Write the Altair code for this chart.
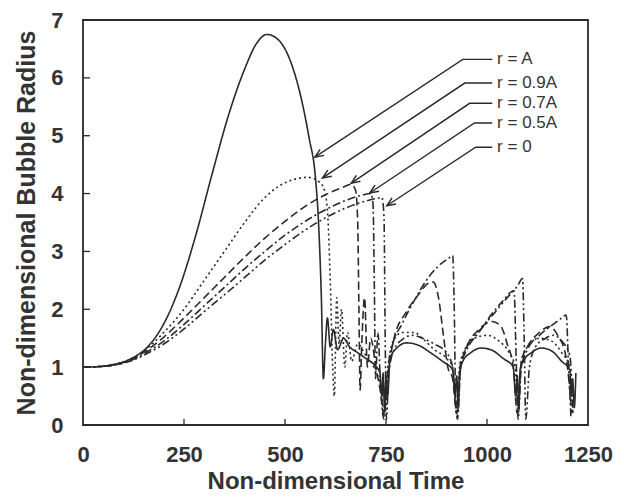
import math
import altair as alt
import pandas as pd

# ---------------- data ----------------
series_names = ["r = A", "r = 0.9A", "r = 0.7A", "r = 0.5A", "r = 0"]

t_A = [0, 40, 80, 120, 160, 200, 240, 280, 320, 360, 400, 430, 455, 480, 510, 540, 560, 575, 583, 590, 595,
       600, 605, 612, 620, 630, 645, 660, 680, 700, 720, 735, 740, 743, 746, 750, 754, 760, 780, 800, 830, 860,
       890, 915, 921, 925, 929, 932, 940, 960, 985, 1010, 1040, 1065, 1071, 1075, 1079, 1082, 1090, 1110, 1135,
       1160, 1185, 1205, 1209, 1212, 1216, 1220]
r_A = [1.0, 1.01, 1.05, 1.15, 1.35, 1.75, 2.4, 3.3, 4.35, 5.35, 6.15, 6.6, 6.75, 6.68, 6.35, 5.65, 4.95, 4.3, 3.5, 2.2, 0.8,
       1.4, 1.85, 1.35, 1.65, 1.3, 1.5, 1.35, 1.25, 1.15, 1.05, 0.9, 0.5, 0.9, 0.3, 0.8, 0.5, 1.15, 1.35, 1.42, 1.38, 1.25,
       1.1, 0.95, 0.5, 0.85, 0.3, 0.9, 1.1, 1.25, 1.33, 1.3, 1.15, 1.0, 0.5, 0.85, 0.3, 0.95, 1.1, 1.25, 1.33,
       1.28, 1.1, 0.95, 0.5, 0.8, 0.3, 0.9]

t_09 = [0, 40, 80, 120, 160, 200, 250, 300, 350, 400, 450, 490, 520, 557, 585, 598, 606, 612, 618, 622, 628, 634,
        640, 648, 655, 665, 680, 700, 720, 738, 745, 752, 765, 790, 820, 840, 870, 900, 915, 924, 932, 945, 970,
        1000, 1030, 1055, 1070, 1077, 1085, 1100, 1130, 1160, 1185, 1205, 1212]
r_09 = [1.0, 1.01, 1.05, 1.15, 1.33, 1.6, 2.0, 2.5, 3.0, 3.5, 3.93, 4.15, 4.24, 4.28, 4.2, 4.05, 3.6, 2.5, 1.0, 0.5, 2.2, 1.4,
        2.0, 1.0, 1.6, 1.1, 1.4, 1.2, 1.0, 0.6, 0.2, 0.8, 1.4, 1.6, 1.6, 1.5, 1.3, 1.15, 1.0, 0.3, 1.0, 1.3, 1.5,
        1.55, 1.45, 1.25, 1.0, 0.2, 1.1, 1.35, 1.5, 1.45, 1.25, 1.0, 0.2]

t_07 = [0, 40, 80, 120, 160, 200, 250, 300, 350, 400, 450, 500, 550, 600, 640, 664, 675, 680, 683, 686, 690, 697,
        704, 712, 725, 738, 745, 752, 770, 800, 830, 855, 867, 880, 893, 903, 915, 925, 935, 950, 980, 1013, 1035,
        1050, 1065, 1075, 1085, 1100, 1130, 1155, 1175, 1195, 1210]
r_07 = [1.0, 1.01, 1.05, 1.13, 1.3, 1.52, 1.85, 2.2, 2.55, 2.9, 3.23, 3.52, 3.78, 3.98, 4.1, 4.16, 4.05, 3.5, 2.0, 0.6, 1.4, 2.2,
        1.0, 1.5, 1.0, 0.5, 0.15, 0.7, 1.5, 1.95, 2.25, 2.45, 2.47, 2.2, 1.5, 1.0, 0.8, 0.2, 1.0, 1.35, 1.65, 1.79, 1.7,
        1.4, 1.0, 0.2, 1.1, 1.35, 1.6, 1.7, 1.55, 1.2, 0.2]

t_05 = [0, 40, 80, 120, 160, 200, 250, 300, 350, 400, 450, 500, 550, 600, 650, 690, 713, 718, 721, 724, 730, 737,
        745, 752, 765, 790, 820, 850, 880, 905, 915, 919, 922, 927, 935, 950, 980, 1010, 1040, 1060, 1067, 1072,
        1077, 1085, 1100, 1130, 1160, 1185, 1196, 1202, 1208]
r_05 = [1.0, 1.01, 1.04, 1.12, 1.27, 1.45, 1.74, 2.06, 2.38, 2.7, 3.0, 3.28, 3.52, 3.72, 3.88, 3.97, 4.0, 3.8, 2.5, 0.8, 1.6, 0.6,
        0.1, 0.8, 1.35, 1.75, 2.15, 2.5, 2.75, 2.88, 2.93, 2.0, 0.6, 0.1, 1.0, 1.3, 1.6, 1.9, 2.15, 2.3, 2.32, 1.2,
        0.1, 1.0, 1.3, 1.55, 1.72, 1.85, 1.9, 1.0, 0.1]

t_0 = [0, 40, 80, 120, 160, 200, 250, 300, 350, 400, 450, 500, 550, 600, 650, 700, 730, 740, 745, 748, 751, 757,
       770, 795, 815, 840, 870, 900, 915, 926, 935, 960, 990, 1020, 1050, 1075, 1088, 1092, 1096, 1105, 1120, 1145,
       1165, 1185, 1205, 1213]
r_0 = [1.0, 1.01, 1.04, 1.11, 1.24, 1.4, 1.66, 1.96, 2.25, 2.55, 2.85, 3.12, 3.37, 3.58, 3.75, 3.87, 3.92, 3.93, 3.6, 1.5, 0.1, 0.9,
       1.3, 1.5, 1.55, 1.5, 1.4, 1.25, 1.0, 0.15, 1.1, 1.45, 1.7, 1.95, 2.2, 2.4, 2.53, 1.5, 0.1, 1.0, 1.35, 1.5,
       1.55, 1.45, 1.2, 0.2]

# annotation geometry (data units): label position, horizontal start, arrow tip
label_t = [1025, 1025, 1025, 1025, 1025]
label_r = [6.32, 5.91, 5.56, 5.22, 4.80]
elbow_t = [940, 945, 957, 969, 972]
hend_t = [1013, 1013, 1013, 1013, 1013]
tip_t = [574, 593, 664, 710, 752]
tip_r = [4.63, 4.27, 4.18, 4.01, 3.79]

x_ticks = [250, 500, 750, 1000]
y_ticks = [1, 2, 3, 4, 5, 6]

# ---------------- build tables ----------------
W, H = 505, 405
XMAX, YMAX = 1250, 7

rows = []
for name, ts, rs in zip(series_names, [t_A, t_09, t_07, t_05, t_0], [r_A, r_09, r_07, r_05, r_0]):
    for i, (t, r) in enumerate(zip(ts, rs)):
        rows.append({"series": name, "t": t, "r": r, "i": i})
curves = pd.DataFrame(rows)

seg_rows = []
head_rows = []
lab_rows = []
for k, name in enumerate(series_names):
    pts = [(tip_t[k], tip_r[k]), (elbow_t[k], label_r[k]), (hend_t[k], label_r[k])]
    for j, (t, r) in enumerate(pts):
        seg_rows.append({"lab": name, "t": t, "r": r, "o": j})
    dx = (tip_t[k] - elbow_t[k]) * W / XMAX
    dy = -(tip_r[k] - label_r[k]) * H / YMAX
    ang = math.degrees(math.atan2(dy, dx)) % 360
    head_rows.append({"lab": name, "t": tip_t[k], "r": tip_r[k], "ang": ang})
    lab_rows.append({"lab": name, "t": label_t[k], "r": label_r[k]})
segs = pd.DataFrame(seg_rows)
heads = pd.DataFrame(head_rows)
labs = pd.DataFrame(lab_rows)

xs = alt.Scale(domain=[0, XMAX], nice=False)
ys = alt.Scale(domain=[0, YMAX], nice=False)
ink = "#2a2a2a"

lines = alt.Chart(curves).mark_line(strokeWidth=1.6, color=ink, clip=True, interpolate="monotone").encode(
    x=alt.X("t:Q", scale=xs, title="Non-dimensional Time",
            axis=alt.Axis(values=[0, 250, 500, 750, 1000, 1250], format="d", ticks=False, domain=False,
                          grid=False, labelPadding=19, titlePadding=4, labelFlush=False, titleFontSize=24)),
    y=alt.Y("r:Q", scale=ys, title="Non-dimensional Bubble Radius",
            axis=alt.Axis(values=[0, 1, 2, 3, 4, 5, 6, 7], format="d", ticks=False, domain=False, grid=False,
                          labelPadding=20, titlePadding=11, labelFlush=False, titleFontSize=25)),
    detail="series:N",
    order="i:Q",
    strokeDash=alt.StrokeDash("series:N", legend=None,
                              scale=alt.Scale(domain=series_names,
                                              range=[[1, 0], [2, 3], [8, 4], [8, 3, 2, 3], [8, 3, 2, 3, 2, 3]])),
)

xt = alt.Chart(pd.DataFrame({"v": x_ticks})).mark_rule(color=ink, strokeWidth=1.3).encode(
    x=alt.X("v:Q", scale=xs), y=alt.value(H), y2=alt.value(H - 6))
yt = alt.Chart(pd.DataFrame({"v": y_ticks})).mark_rule(color=ink, strokeWidth=1.3).encode(
    y=alt.Y("v:Q", scale=ys), x=alt.value(0), x2=alt.value(7))

arrows = alt.Chart(segs).mark_line(color=ink, strokeWidth=1.4).encode(
    x=alt.X("t:Q", scale=xs), y=alt.Y("r:Q", scale=ys), detail="lab:N", order="o:Q")

heads_m = alt.Chart(heads).mark_point(
    shape="M -1 -0.42 L 0 0 L -1 0.42", size=300, filled=False, color=ink, strokeWidth=1.5, opacity=1
).encode(x=alt.X("t:Q", scale=xs), y=alt.Y("r:Q", scale=ys), angle=alt.Angle("ang:Q", scale=None))

texts = alt.Chart(labs).mark_text(align="left", baseline="middle", font="Liberation Sans", fontSize=17,
                                  color="#333").encode(
    x=alt.X("t:Q", scale=xs), y=alt.Y("r:Q", scale=ys), text="lab:N")

chart = alt.layer(lines, xt, yt, arrows, heads_m, texts).properties(
    width=W, height=H,
    autosize=alt.AutoSizeParams(type="none"),
    padding={"left": 75, "top": 12, "right": 28, "bottom": 70},
    background="white",
).configure_view(stroke=ink, strokeWidth=1.8).configure_axis(
    labelFont="Liberation Sans", labelFontWeight="bold", labelFontSize=22, labelColor="#333",
    titleFont="Liberation Sans", titleFontWeight="bold", titleColor="#333",
)

chart.save("out.html", embed_options={"renderer": "svg", "actions": False})
